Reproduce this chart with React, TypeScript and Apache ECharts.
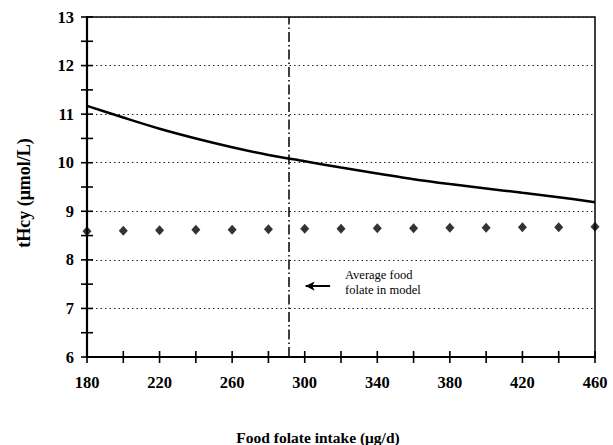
import React, { useEffect, useRef } from "react";
import * as echarts from "echarts";

const folateX = [180, 200, 220, 240, 260, 280, 300, 320, 340, 360, 380, 400, 420, 440, 460];
const curveValues = [11.17, 10.93, 10.7, 10.5, 10.32, 10.16, 10.03, 9.9, 9.78, 9.66, 9.56, 9.47, 9.38, 9.29, 9.185];
const diamondValues = [8.59, 8.6, 8.61, 8.62, 8.62, 8.63, 8.64, 8.64, 8.65, 8.65, 8.66, 8.66, 8.67, 8.67, 8.68];
const xTickValues = [180, 200, 220, 240, 260, 280, 300, 320, 340, 360, 380, 400, 420, 440, 460];
const yTickValues = [6, 6.5, 7, 7.5, 8, 8.5, 9, 9.5, 10, 10.5, 11, 11.5, 12, 12.5, 13];
const averageFolate = 291;
const arrowFrom = [314, 7.46];
const arrowTo = [300.5, 7.46];
const xTitle = "Food folate intake (\u03bcg/d)";
const yTitle = "tHcy (\u03bcmol/L)";
const noteText = "Average food\nfolate in model";

const FONT = "'Liberation Serif', 'Times New Roman', serif";
const X_MIN = 180;
const Y_MIN = 6;

export default function App() {
  const ref = useRef<HTMLDivElement>(null);
  useEffect(() => {
    if (!ref.current) return;
    const chart = echarts.init(ref.current, null, { renderer: "svg" });
    const labelStyle = { color: "#000", fontFamily: FONT, fontWeight: "bold", fontSize: 16.5 };
    const tickData = [
      ...xTickValues.map((v) => [v, Y_MIN, 0]),
      ...yTickValues.map((v) => [X_MIN, v, 1]),
    ];
    chart.setOption({
      animation: false,
      backgroundColor: "#fff",
      grid: {
        left: 87,
        right: 18,
        top: 17,
        bottom: 88,
        show: true,
        borderColor: "#000",
        borderWidth: 1.5,
        backgroundColor: "transparent",
      },
      xAxis: {
        type: "value",
        min: 180,
        max: 460,
        interval: 40,
        position: "bottom",
        axisLine: { show: true, onZero: false, lineStyle: { color: "#000", width: 2.2 } },
        axisTick: { show: false },
        axisLabel: { ...labelStyle, margin: 17 },
        splitLine: { show: false },
      },
      yAxis: {
        type: "value",
        min: 6,
        max: 13,
        interval: 1,
        position: "left",
        axisLine: { show: true, onZero: false, lineStyle: { color: "#000", width: 2.2 } },
        axisTick: { show: false },
        axisLabel: { ...labelStyle, margin: 13 },
        splitLine: { show: true, lineStyle: { color: "#222", width: 1, type: [1.5, 3] } },
      },
      series: [
        {
          type: "custom",
          clip: false,
          silent: true,
          z: 5,
          data: tickData,
          encode: { x: 0, y: 1 },
          renderItem: (params: any, api: any) => {
            const p = api.coord([api.value(0), api.value(1)]);
            const vertical = api.value(2) === 0;
            const half = 6;
            const shape = vertical
              ? { x1: p[0], y1: p[1] - half, x2: p[0], y2: p[1] + half }
              : { x1: p[0] - half, y1: p[1], x2: p[0] + half, y2: p[1] };
            return {
              type: "line",
              shape,
              style: { stroke: "#000", lineWidth: 1.6 },
            };
          },
        },
        {
          type: "line",
          data: folateX.map((x, i) => [x, curveValues[i]]),
          smooth: 0.3,
          showSymbol: false,
          symbol: "none",
          lineStyle: { color: "#000", width: 2.5 },
          z: 3,
        },
        {
          type: "scatter",
          data: folateX.map((x, i) => [x, diamondValues[i]]),
          symbol: "diamond",
          symbolSize: [9, 10],
          itemStyle: { color: "#000" },
          z: 4,
          markLine: {
            silent: true,
            animation: false,
            label: { show: false },
            symbol: ["none", "none"],
            data: [
              {
                xAxis: averageFolate,
                symbol: "none",
                lineStyle: { color: "#000", width: 1.5, type: [10, 3, 1.5, 3] },
              },
              [
                {
                  coord: arrowFrom,
                  symbol: "none",
                  lineStyle: { color: "#000", width: 2, type: "solid" },
                },
                {
                  coord: arrowTo,
                  symbol: "arrow",
                  symbolSize: [7, 9],
                },
              ],
            ],
          },
        },
      ],
      graphic: [
        {
          type: "text",
          left: 345,
          top: 267,
          style: {
            text: noteText,
            fontFamily: FONT,
            fontSize: 12.5,
            lineHeight: 15.5,
            fill: "#000",
          },
        },
        {
          type: "text",
          x: 318,
          y: 437,
          style: {
            text: xTitle,
            fontFamily: FONT,
            fontWeight: "bold",
            fontSize: 15.5,
            fill: "#000",
            align: "center",
            verticalAlign: "middle",
          },
        },
        {
          type: "text",
          x: 24,
          y: 193,
          rotation: Math.PI / 2,
          style: {
            text: yTitle,
            fontFamily: FONT,
            fontWeight: "bold",
            fontSize: 18,
            fill: "#000",
            align: "center",
            verticalAlign: "middle",
          },
        },
      ],
    });
    return () => chart.dispose();
  }, []);
  return (
    <div
      ref={ref}
      style={{ position: "fixed", left: 0, top: 0, width: 613, height: 445, background: "#fff" }}
    />
  );
}
